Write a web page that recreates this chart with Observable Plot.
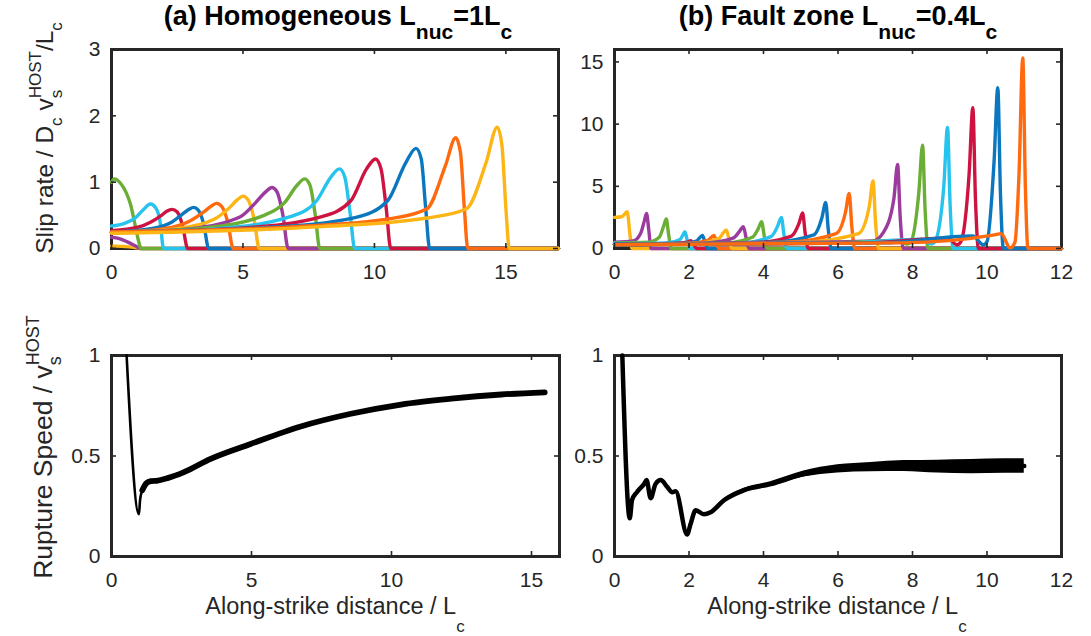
<!DOCTYPE html>
<html><head><meta charset="utf-8">
<script src="https://cdn.jsdelivr.net/npm/d3@7"></script>
<script src="https://cdn.jsdelivr.net/npm/@observablehq/plot@0.6"></script>
<style>
body{margin:0;background:#fff;}
#wrap{position:relative;width:1091px;height:636px;overflow:hidden;background:#fff;font-family:"Liberation Sans",Arial,sans-serif;}
</style></head><body><div id="wrap"></div>
<script>
// ---------- data ----------
const palette = {blue:"#0B77BE", orange:"#FF6A0F", yellow:"#FDB516", purple:"#9B3B9E", green:"#6BAE35", cyan:"#27C3EF", red:"#CE1340"};

// (a) Homogeneous: slip-rate snapshots
const slipA_color = ["yellow","purple","green","cyan","red","blue","orange","yellow","purple","green","cyan","red","blue","orange","yellow"];
const slipA_x = [
  [0,0.5,0.9,1.1,17],
  [0,0.3,0.6,0.9,1.1,17],
  [0,0.1,0.35,0.55,0.72,0.9,1.05,1.12,17],
  [0,0.5,0.9,1.2,1.48,1.7,1.85,1.98,17],
  [0,1.0,1.5,1.9,2.1,2.3,2.5,2.7,2.9,17],
  [0,1.5,2.3,2.7,2.95,3.12,3.3,3.5,3.7,17],
  [0,2,3.0,3.5,3.8,4.0,4.2,4.42,4.63,17],
  [0,2.5,3.9,4.5,4.8,5.0,5.2,5.42,5.62,17],
  [0,3,4.9,5.5,5.85,6.1,6.3,6.52,6.72,17],
  [0,3.5,5.8,6.6,7.05,7.35,7.55,7.75,7.92,17],
  [0,4,6.8,7.8,8.35,8.67,8.87,9.07,9.25,17],
  [0,5,8.0,9.1,9.7,10.04,10.25,10.45,10.62,17],
  [0,6,9.3,10.5,11.2,11.58,11.78,11.95,12.1,17],
  [0,7,10.6,12.0,12.7,13.09,13.27,13.42,13.55,17],
  [0,8,12.0,13.5,14.25,14.67,14.85,15.0,15.13,17]
];
const slipA_y = [
  [0.04,0.03,0.015,0,0],
  [0.17,0.15,0.1,0.04,0,0],
  [1.0,1.05,0.98,0.85,0.67,0.35,0.08,0,0],
  [0.34,0.38,0.46,0.58,0.67,0.6,0.4,0,0],
  [0.27,0.32,0.4,0.5,0.56,0.59,0.55,0.35,0,0],
  [0.25,0.3,0.4,0.52,0.59,0.62,0.58,0.38,0,0],
  [0.24,0.3,0.42,0.55,0.64,0.68,0.63,0.4,0,0],
  [0.24,0.3,0.44,0.62,0.74,0.79,0.73,0.45,0,0],
  [0.24,0.3,0.48,0.7,0.85,0.92,0.85,0.5,0,0],
  [0.24,0.31,0.5,0.7,0.95,1.05,0.95,0.5,0,0],
  [0.24,0.3,0.48,0.72,1.08,1.2,1.08,0.55,0,0],
  [0.24,0.31,0.48,0.72,1.2,1.35,1.2,0.6,0,0],
  [0.25,0.32,0.47,0.72,1.3,1.51,1.35,0.6,0,0],
  [0.25,0.33,0.45,0.6,1.25,1.67,1.45,0.6,0,0],
  [0.23,0.33,0.46,0.6,1.3,1.83,1.55,0.6,0,0]
];

// (b) Fault zone: slip-rate snapshots
const slipB_color = ["yellow","purple","green","cyan","red","blue","orange","yellow","purple","green","cyan","red","blue","orange","yellow","purple","green","cyan","red","blue","orange"];
const slipB_x = [
  [0,0.2,0.34,0.42,0.47,12],
  [0,0.5,0.7,0.8,0.86,0.92,0.98,12],
  [0,0.9,1.2,1.32,1.39,1.45,1.52,12],
  [0,1.4,1.75,1.84,1.89,1.95,2.02,12],
  [0,1.6,1.95,2.05,2.13,2.2,12],
  [0,1.8,2.2,2.3,2.36,2.42,2.5,12],
  [0,2.0,2.5,2.6,2.67,2.73,2.8,12],
  [0,2.2,2.8,2.92,3.0,3.07,3.15,12],
  [0,2.5,3.2,3.36,3.46,3.53,3.61,12],
  [0,3.0,3.7,3.86,3.95,4.02,4.1,12],
  [0,3.4,4.2,4.38,4.48,4.55,4.63,12],
  [0,3.8,4.75,4.95,5.05,5.12,5.2,12],
  [0,4.2,5.35,5.57,5.67,5.74,5.82,12],
  [0,4.6,5.95,6.2,6.3,6.37,6.45,12],
  [0,5.0,6.55,6.84,6.94,7.01,7.09,12],
  [0,5.5,6.93,7.22,7.5,7.6,7.67,7.75,12],
  [0,5.9,7.6,7.85,7.95,8.17,8.27,8.34,8.42,12],
  [0,6.3,8.27,8.5,8.6,8.84,8.94,9.01,9.09,12],
  [0,6.8,8.94,9.2,9.3,9.52,9.62,9.69,9.77,12],
  [0,7.2,9.62,9.9,10.0,10.19,10.29,10.36,10.44,12],
  [0,7.7,10.2,10.38,10.62,10.75,10.86,10.96,11.03,11.1,12]
];
const slipB_y = [
  [2.5,2.55,2.95,1.0,0,0],
  [0.5,0.6,1.2,2.2,2.82,1.5,0,0],
  [0.45,0.5,0.9,1.8,2.37,1.2,0,0],
  [0.4,0.45,0.7,1.1,1.35,0.7,0,0],
  [0.35,0.4,0.5,0.62,0.3,0,0],
  [0.35,0.4,0.6,0.9,1.04,0.6,0,0],
  [0.3,0.4,0.65,0.9,1.05,0.6,0,0],
  [0.3,0.42,0.8,1.25,1.5,0.8,0,0],
  [0.3,0.45,0.85,1.4,1.76,0.9,0,0],
  [0.3,0.45,0.9,1.6,2.15,1.0,0,0],
  [0.3,0.45,0.95,1.8,2.5,1.1,0,0],
  [0.3,0.48,1.0,2.0,2.85,1.2,0,0],
  [0.3,0.5,1.1,2.5,3.7,1.5,0,0],
  [0.3,0.5,1.2,2.9,4.42,1.8,0,0],
  [0.3,0.5,1.2,3.4,5.43,2.0,0,0],
  [0.3,0.5,0.6,1.3,4.0,6.76,2.5,0,0],
  [0.3,0.45,0.65,0.35,0.5,4.5,8.3,3,0,0],
  [0.3,0.45,0.75,0.35,0.55,5.0,9.74,3.5,0,0],
  [0.3,0.45,0.85,0.3,0.55,6,11.33,4,0,0],
  [0.3,0.45,1.0,0.3,0.55,7,12.93,4.5,0,0],
  [0.3,0.45,1.1,1.2,0.05,0.5,6,15.32,5,0,0]
];

// rupture speed
const speedA_x = [0.54,0.98,1.02,1.1,1.25,1.4,1.65,2.0,2.59,3.54,4.97,6.76,8.55,10.34,12.13,13.92,15.47];
const speedA_y = [1.0,0.21,0.28,0.33,0.365,0.375,0.378,0.39,0.42,0.486,0.56,0.647,0.71,0.756,0.785,0.806,0.817];
const speedB_x = [0.21,0.41,0.47,0.6,0.79,0.86,0.97,1.1,1.24,1.42,1.55,1.64,1.95,2.04,2.18,2.4,2.58,2.94,3.48,4.19,5.08,5.99,6.88,7.77,8.67,9.57,10.47,11.0];
const speedB_y = [1.0,0.19,0.28,0.32,0.36,0.38,0.29,0.36,0.38,0.345,0.32,0.325,0.11,0.16,0.23,0.21,0.22,0.28,0.33,0.36,0.41,0.436,0.445,0.45,0.447,0.447,0.45,0.45];
const speedB_spread = [0,0,0,0,0,0,0,0,0.002,0.004,0.005,0.005,0.002,0.002,0.003,0.004,0.005,0.008,0.01,0.012,0.015,0.02,0.023,0.027,0.032,0.035,0.036,0.036];

// ticks
const ticksA_x = [0,5,10,15], ticksA_y = [0,1,2,3];
const ticksB_x = [0,2,4,6,8,10,12], ticksB_y = [0,5,10,15];
const ticksC_y = [0,0.5,1];

// ---------- drawing ----------
const AX = "#262626";
const wrap = document.getElementById("wrap");
const zip = (xs, ys) => xs.map((x, i) => ({x, y: ys[i]}));

function panel(cfg) {
  const {left, top, width, height, mt, mb, ml, mr, xDomain, yDomain, xTicks, yTicks, marks} = cfg;
  const fw = width - ml - mr, fh = height - mt - mb;
  const tx = (xDomain[1] - xDomain[0]) * 5 / fw, ty = (yDomain[1] - yDomain[0]) * 5 / fh;
  const tk = {stroke: AX, strokeWidth: 1.6};
  const svg = Plot.plot({
    width, height, marginTop: mt, marginBottom: mb, marginLeft: ml, marginRight: mr,
    x: {domain: xDomain, ticks: xTicks, tickSize: 0, tickPadding: 16, label: null, tickFormat: d => String(d)},
    y: {domain: yDomain, ticks: yTicks, tickSize: 0, tickPadding: 11, label: null, tickFormat: d => String(d)},
    style: {fontSize: "21px", fontFamily: "Liberation Sans, Arial, sans-serif", color: AX, background: "transparent", overflow: "visible"},
    marks: [
      Plot.frame({stroke: AX, strokeWidth: 3}),
      ...marks,
      Plot.ruleX(xTicks, {x: d => d, y1: yDomain[0], y2: yDomain[0] + ty, ...tk}),
      Plot.ruleX(xTicks, {x: d => d, y1: yDomain[1], y2: yDomain[1] - ty, ...tk}),
      Plot.ruleY(yTicks, {y: d => d, x1: xDomain[0], x2: xDomain[0] + tx, ...tk}),
      Plot.ruleY(yTicks, {y: d => d, x1: xDomain[1], x2: xDomain[1] - tx, ...tk})
    ]
  });
  svg.style.position = "absolute";
  svg.style.left = left + "px";
  svg.style.top = top + "px";
  wrap.appendChild(svg);
}

const slipMarks = (xs, ys, cols) => xs.map((xa, i) =>
  Plot.line(zip(xa, ys[i]), {x: "x", y: "y", stroke: palette[cols[i]], strokeWidth: 3.4, curve: "monotone-x"}));

panel({left: 0, top: 0, width: 580, height: 300, mt: 49, mb: 52, ml: 111, mr: 22,
  xDomain: [0, 17], yDomain: [0, 3], xTicks: ticksA_x, yTicks: ticksA_y,
  marks: slipMarks(slipA_x, slipA_y, slipA_color)});

panel({left: 570, top: 0, width: 521, height: 300, mt: 49, mb: 52, ml: 44, mr: 30,
  xDomain: [0, 12], yDomain: [0, 16], xTicks: ticksB_x, yTicks: ticksB_y,
  marks: slipMarks(slipB_x, slipB_y, slipB_color)});

const sA = zip(speedA_x, speedA_y);
panel({left: 0, top: 300, width: 580, height: 336, mt: 55, mb: 80, ml: 111, mr: 21,
  xDomain: [0, 16], yDomain: [0, 1], xTicks: ticksA_x, yTicks: ticksC_y,
  marks: [
    Plot.line(sA.slice(0, 4), {x: "x", y: "y", stroke: "#000", strokeWidth: 2.6, curve: "monotone-x"}),
    Plot.line(sA.slice(3), {x: "x", y: "y", stroke: "#000", strokeWidth: 5.8, curve: "monotone-x", strokeLinecap: "round"})
  ]});

const sB = speedB_x.map((x, i) => ({x, y: speedB_y[i], lo: speedB_y[i] - speedB_spread[i], hi: speedB_y[i] + speedB_spread[i]}));
panel({left: 570, top: 300, width: 521, height: 336, mt: 55, mb: 80, ml: 44, mr: 30,
  xDomain: [0, 12], yDomain: [0, 1], xTicks: ticksB_x, yTicks: ticksC_y,
  marks: [
    Plot.areaY(sB, {x: "x", y1: "lo", y2: "hi", fill: "#000", curve: "monotone-x"}),
    Plot.line(sB, {x: "x", y: "y", stroke: "#000", strokeWidth: 4.5, curve: "monotone-x", strokeLinecap: "round"})
  ]});

// ---------- text overlay ----------
const ov = d3.create("svg").attr("width", 1091).attr("height", 636)
  .style("position", "absolute").style("left", "0px").style("top", "0px")
  .style("pointer-events", "none")
  .attr("font-family", "Liberation Sans, Arial, sans-serif");

function rich(g, parts, opts) {
  const t = g.append("text").attr("text-anchor", opts.anchor || "middle")
    .attr("font-size", opts.size).attr("fill", opts.fill || AX);
  if (opts.bold) t.attr("font-weight", "bold");
  parts.forEach(p => {
    const s = t.append("tspan").text(p.t);
    if (p.size) s.attr("font-size", p.size);
    if (p.dy) s.attr("dy", p.dy);
    if (p.dx) s.attr("dx", p.dx);
  });
  return t;
}

// titles
const tA = ov.append("g").attr("transform", "translate(338,25)");
rich(tA, [{t: "(a) Homogeneous L"}, {t: "nuc", size: 21, dy: 14}, {t: "=1L", dy: -14}, {t: "c", size: 21, dy: 14}], {size: 27, bold: true, fill: "#000"});
const tB = ov.append("g").attr("transform", "translate(838,25)");
rich(tB, [{t: "(b) Fault zone L"}, {t: "nuc", size: 21, dy: 14}, {t: "=0.4L", dy: -14}, {t: "c", size: 21, dy: 14}], {size: 27, bold: true, fill: "#000"});

// x labels
[335, 837].forEach(cx => {
  const g = ov.append("g").attr("transform", `translate(${cx},614)`);
  rich(g, [{t: "Along-strike distance / L"}, {t: "c", size: 17, dy: 18}], {size: 23.5});
});

// y labels
const yA = ov.append("g").attr("transform", "translate(53,138) rotate(-90)");
rich(yA, [{t: "Slip rate / D"}, {t: "c", size: 17, dy: 9}, {t: " v", dy: -9}, {t: "s", size: 17, dy: 9},
  {t: "HOST", size: 17, dx: -8.5, dy: -21}, {t: "/L", dy: 12}, {t: "c", size: 17, dy: 9}], {size: 24.5});
const yB = ov.append("g").attr("transform", "translate(52,447) rotate(-90)");
rich(yB, [{t: "Rupture Speed / v"}, {t: "s", size: 18, dy: 9}, {t: "HOST", size: 18, dx: -9, dy: -22}], {size: 26.5});

wrap.appendChild(ov.node());
</script></body></html>
